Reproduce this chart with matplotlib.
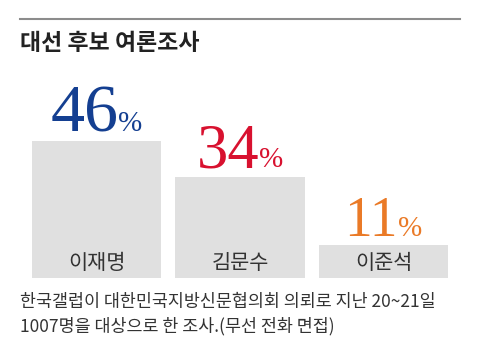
import numpy as np
import matplotlib
matplotlib.use('Agg')
import matplotlib.pyplot as plt

# 대선 후보 여론조사 데이터
names = ['이재명', '김문수', '이준석']
values = [46, 34, 11]
colors = ['#143f91', '#d8112f', '#ea7a27']
num_sizes = [49, 45, 40]

title = '대선 후보 여론조사'
note = '한국갤럽이 대한민국지방신문협의회 의뢰로 지난 20~21일\n1007명을 대상으로 한 조사.(무선 전화 면접)'

plt.rcParams['font.family'] = ['Noto Sans CJK KR', 'DejaVu Sans']

W, H = 480, 360
fig = plt.figure(figsize=(W / 100, H / 100), dpi=100)
fig.patch.set_facecolor('white')

# 상단 회색 선
fig.add_artist(plt.Line2D([20 / W, 460 / W], [1 - 19 / H, 1 - 19 / H],
                          color='#8c8c8c', lw=1.5))
fig.text(20 / W, 1 - 43 / H, title, fontsize=16.5, fontweight='bold',
         color='#222222', va='center', ha='left')

# 막대 영역 (픽셀 기준으로 위치 맞춤)
px_per_unit = 137 / 46
ymax = 50
left_px, right_px = 24.75, 455.25
bottom_px = 278
ax = fig.add_axes([left_px / W, (H - bottom_px) / H,
                   (right_px - left_px) / W, ymax * px_per_unit / H])
x = np.arange(len(values))
ax.bar(x, values, width=0.9, color='#e0e0e0')
ax.set_xlim(-0.5, len(values) - 0.5)
ax.set_ylim(0, ymax)
ax.axis('off')

pairs = []
for i, v in enumerate(values):
    n = ax.annotate(str(v), (i, v), xytext=(0, 7), textcoords='offset points',
                    ha='right', va='baseline', fontsize=num_sizes[i],
                    family='Liberation Serif', color=colors[i])
    p = ax.annotate('%', (i, v), xytext=(0, 7), textcoords='offset points',
                    ha='left', va='baseline', fontsize=21,
                    family='Liberation Serif', color=colors[i])
    pairs.append((n, p))
    ax.annotate(names[i], (i, 0), xytext=(0, 11), textcoords='offset points',
                ha='center', va='center', fontsize=15, color='#333333')

# 숫자+% 묶음을 막대 가운데로
fig.canvas.draw()
for n, p in pairs:
    wn = n.get_window_extent().width
    wp = p.get_window_extent().width
    shift = (wn - wp) / 2 * 72 / fig.dpi
    n.set_position((shift, 7))
    p.set_position((shift, 7))

fig.text(20 / W, 1 - 293 / H, note, fontsize=12.5, color='#333333',
         va='top', ha='left', linespacing=1.42)

fig.savefig('out.png', dpi=100)
